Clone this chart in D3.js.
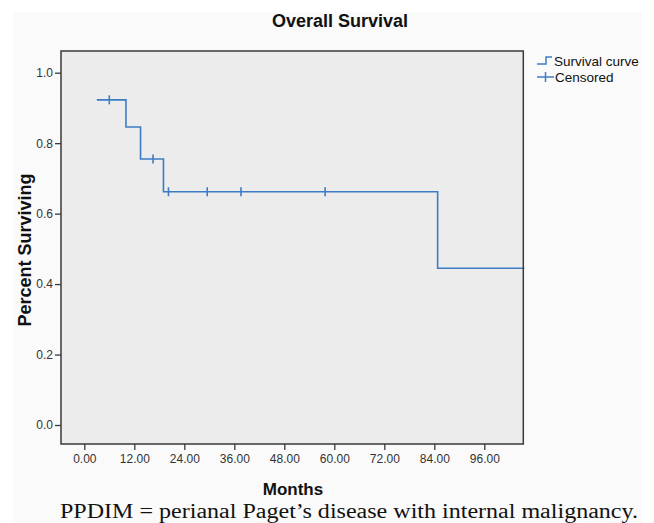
<!DOCTYPE html>
<html>
<head>
<meta charset="utf-8">
<script src="https://cdn.jsdelivr.net/npm/d3@7"></script>
<style>
  body { margin: 0; background: #fff; }
  text { font-family: "Liberation Sans", Arial, sans-serif; }
</style>
</head>
<body>
<svg id="plot" width="654" height="523"></svg>
<script>
// Step curve: time (months) and survival at each step
const stepTimes = [3, 10, 13.5, 19, 84.8, 105.6];
const stepSurv  = [0.923, 0.846, 0.755, 0.662, 0.445, 0.445];
// Censored observations
const censorTimes = [6, 16.5, 20.2, 29.5, 37.6, 57.8];
const censorSurv  = [0.923, 0.755, 0.662, 0.662, 0.662, 0.662];
// Axis ticks
const xTicks = [0, 12, 24, 36, 48, 60, 72, 84, 96];
const yTicks = [0, 0.2, 0.4, 0.6, 0.8, 1.0];

const svg = d3.select("#plot");
const blue = "#3d7cc4";

// Panel background
svg.append("rect")
    .attr("x", 13).attr("y", 12)
    .attr("width", 629).attr("height", 511)
    .attr("fill", "#fafafa");

// Plot area
const plot = {left: 61, right: 523.3, top: 51, bottom: 444};

const x = d3.scaleLinear()
    .domain([0, 96])
    .range([84.3, 484.3]);
const y = d3.scaleLinear()
    .domain([0, 1])
    .range([425, 72.7]);

svg.append("rect")
    .attr("x", plot.left).attr("y", plot.top)
    .attr("width", plot.right - plot.left)
    .attr("height", plot.bottom - plot.top)
    .attr("fill", "#ececec");

// Survival curve
const pts = stepTimes.map((t, i) => [t, stepSurv[i]]);
const line = d3.line()
    .x(d => x(d[0]))
    .y(d => y(d[1]))
    .curve(d3.curveStepAfter);
svg.append("path")
    .datum(pts)
    .attr("d", line)
    .attr("fill", "none")
    .attr("stroke", blue)
    .attr("stroke-width", 1.6);

// Censor marks
svg.selectAll(".censor")
    .data(censorTimes)
  .enter().append("line")
    .attr("class", "censor")
    .attr("x1", d => x(d)).attr("x2", d => x(d))
    .attr("y1", (d, i) => y(censorSurv[i]) - 4.5)
    .attr("y2", (d, i) => y(censorSurv[i]) + 4.5)
    .attr("stroke", blue)
    .attr("stroke-width", 1.6);

// Border
svg.append("rect")
    .attr("x", plot.left).attr("y", plot.top)
    .attr("width", plot.right - plot.left)
    .attr("height", plot.bottom - plot.top)
    .attr("fill", "none")
    .attr("stroke", "#3a3a3a")
    .attr("stroke-width", 1.5);

// Axes
const xAxis = svg.append("g")
    .attr("transform", "translate(0," + plot.bottom + ")")
    .call(d3.axisBottom(x).tickValues(xTicks).tickFormat(d3.format(".2f"))
      .tickSize(6).tickPadding(4));
const yAxis = svg.append("g")
    .attr("transform", "translate(" + plot.left + ",0)")
    .call(d3.axisLeft(y).tickValues(yTicks).tickFormat(d3.format(".1f"))
      .tickSize(6).tickPadding(2));
[xAxis, yAxis].forEach(g => {
  g.select(".domain").remove();
  g.selectAll(".tick line").attr("stroke", "#3a3a3a").attr("stroke-width", 1.3);
  g.selectAll(".tick text")
    .attr("fill", "#333")
    .style("font-size", "12px")
    .style("font-family", "'Liberation Sans', Arial, sans-serif");
});

// Titles
svg.append("text")
    .attr("x", 340).attr("y", 27)
    .attr("text-anchor", "middle")
    .style("font-size", "18px").style("font-weight", "bold")
    .attr("fill", "#111")
    .text("Overall Survival");

svg.append("text")
    .attr("transform", "translate(31,250) rotate(-90)")
    .attr("text-anchor", "middle")
    .style("font-size", "18px").style("font-weight", "bold")
    .attr("fill", "#111")
    .text("Percent Surviving");

svg.append("text")
    .attr("x", 293).attr("y", 495)
    .attr("text-anchor", "middle")
    .style("font-size", "17px").style("font-weight", "bold")
    .attr("fill", "#111")
    .text("Months");

svg.append("text")
    .attr("x", 60).attr("y", 518)
    .attr("textLength", 578)
    .attr("lengthAdjust", "spacingAndGlyphs")
    .style("font-family", "'Liberation Serif', 'Times New Roman', serif")
    .style("font-size", "20px")
    .attr("fill", "#111")
    .text("PPDIM = perianal Paget\u2019s disease with internal malignancy.");

// Legend
const leg = svg.append("g");
leg.append("path")
    .attr("d", "M537,64 H546 V57 H552")
    .attr("fill", "none").attr("stroke", blue).attr("stroke-width", 1.5);
leg.append("line")
    .attr("x1", 537).attr("x2", 554).attr("y1", 77).attr("y2", 77)
    .attr("stroke", blue).attr("stroke-width", 1.5);
leg.append("line")
    .attr("x1", 545.5).attr("x2", 545.5).attr("y1", 72).attr("y2", 82)
    .attr("stroke", blue).attr("stroke-width", 1.5);
leg.append("text")
    .attr("x", 554).attr("y", 66)
    .style("font-size", "13.5px").attr("fill", "#111")
    .text("Survival curve");
leg.append("text")
    .attr("x", 555).attr("y", 82)
    .style("font-size", "13.5px").attr("fill", "#111")
    .text("Censored");
</script>
</body>
</html>
